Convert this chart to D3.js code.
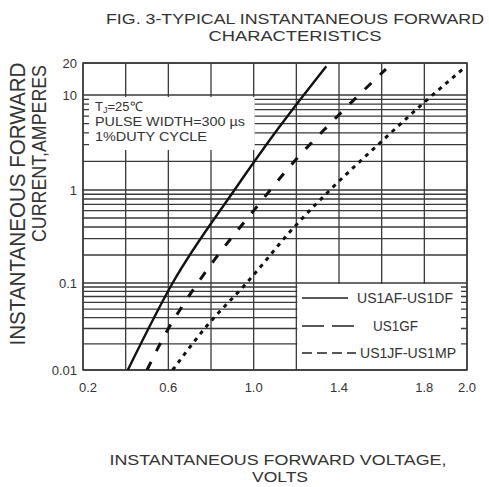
<!DOCTYPE html>
<html>
<head>
<meta charset="utf-8">
<script src="https://cdn.jsdelivr.net/npm/d3@7"></script>
<style>
  html, body { margin: 0; padding: 0; background: #fff; }
  svg { display: block; font-family: "Liberation Sans", Arial, sans-serif; }
</style>
</head>
<body>
<svg id="chart" width="489" height="487"></svg>
<script>
// ---------------- data ----------------
const voltTickLabels = [0.2, 0.6, 1.0, 1.4, 1.8, 2.0];
const voltGrid = [0.2, 0.4, 0.6, 0.8, 1.0, 1.2, 1.4, 1.6, 1.8, 2.0];
const currentTickLabels = [0.01, 0.1, 1, 10, 20];
const decades = [0.01, 0.1, 1, 10];
const decadeMultipliers = [1, 2, 3, 4, 5, 6, 7, 8, 9];

const seriesNames = ["US1AF-US1DF", "US1GF", "US1JF-US1MP"];

// US1AF-US1DF (solid)
const solidVolts = [0.41, 0.62, 0.91, 1.12, 1.34];
const solidAmps  = [0.01, 0.10, 1.0, 4.6, 18.6];

// US1GF (dashed)
const dashedVolts = [0.50, 0.59, 0.69, 0.81, 1.00, 1.19, 1.33, 1.47, 1.62];
const dashedAmps  = [0.01, 0.027, 0.067, 0.17, 0.6, 2.0, 4.3, 8.9, 17.5];

// US1JF-US1MP (dotted)
const dottedVolts = [0.62, 0.78, 0.967, 1.186, 1.358, 1.607, 1.803, 1.99];
const dottedAmps  = [0.01, 0.032, 0.10, 0.39, 1.0, 3.36, 8.5, 18.2];

const noteLines = ["PULSE WIDTH=300 µs", "1%DUTY CYCLE"];

// ---------------- layout ----------------
const svg = d3.select("#chart");
const L = 83, R = 467, T = 63, B = 370;
const gridColor = "#3a3a3a";
const textColor = "#333";

const x = d3.scaleLinear().domain([0.2, 2.0]).range([L, R]);
// log scale, piecewise per decade to follow the scanned grid
const y = d3.scaleLog().domain([0.01, 0.1, 1, 10, 20]).range([B, 283, 190, 95, T]);

const hGrid = [];
decades.forEach(d => decadeMultipliers.forEach(m => {
  const v = +(m * d).toPrecision(3);
  if (v <= 20) hGrid.push(v);
}));

const defs = svg.append("defs");
defs.append("clipPath").attr("id", "plotClip")
  .append("rect").attr("x", L).attr("y", T).attr("width", R - L).attr("height", B - T);

const grid = svg.append("g");
grid.selectAll("line.v").data(voltGrid).join("line")
  .attr("x1", d => x(d)).attr("x2", d => x(d))
  .attr("y1", T).attr("y2", B)
  .attr("stroke", gridColor).attr("stroke-width", 1.3);
grid.selectAll("line.h").data(hGrid).join("line")
  .attr("x1", L).attr("x2", R)
  .attr("y1", d => y(d)).attr("y2", d => y(d))
  .attr("stroke", gridColor).attr("stroke-width", 1.3);

// note box (covers grid)
svg.append("rect").attr("x", 89).attr("y", y(10) + 2)
  .attr("width", x(1.0) + 1 - 89).attr("height", 150 - (y(10) + 2))
  .attr("fill", "#fff");

// legend box (covers grid)
svg.append("rect").attr("x", x(1.2) + 1).attr("y", y(0.1) + 1)
  .attr("width", 461 - (x(1.2) + 1)).attr("height", B - 1 - (y(0.1) + 1))
  .attr("fill", "#fff");

// frame
svg.append("rect").attr("x", L).attr("y", T).attr("width", R - L).attr("height", B - T)
  .attr("fill", "none").attr("stroke", gridColor).attr("stroke-width", 1.5);

// curves
const line = d3.line().x(d => x(d[0])).y(d => y(d[1])).curve(d3.curveMonotoneX);
const curves = [
  { v: solidVolts, a: solidAmps, dash: null, w: 2.4 },
  { v: dashedVolts, a: dashedAmps, dash: "9,12", w: 3 },
  { v: dottedVolts, a: dottedAmps, dash: "4,5", w: 3 }
];
const cg = svg.append("g").attr("clip-path", "url(#plotClip)");
curves.forEach(c => {
  cg.append("path").datum(d3.zip(c.v, c.a))
    .attr("d", line).attr("fill", "none").attr("stroke", "#111")
    .attr("stroke-width", c.w).attr("stroke-dasharray", c.dash);
});

// axis tick labels
svg.append("g").selectAll("text").data(voltTickLabels).join("text")
  .attr("x", d => x(d) + (d === 0.2 ? 5 : 0)).attr("y", 392).attr("text-anchor", "middle")
  .attr("font-size", 13).attr("fill", textColor)
  .text(d => d.toFixed(1));
svg.append("g").selectAll("text").data(currentTickLabels).join("text")
  .attr("x", 77).attr("y", d => y(d) + 5).attr("text-anchor", "end")
  .attr("font-size", 13).attr("fill", textColor)
  .text(d => String(d));

// note text
const nt = svg.append("text").attr("x", 95).attr("y", 111).attr("font-size", 13).attr("fill", textColor);
nt.append("tspan").text("T");
nt.append("tspan").attr("font-size", 9).attr("dy", 2).text("J");
nt.append("tspan").attr("dy", -2).text("=25℃");
svg.append("text").attr("x", 95).attr("y", 126).attr("font-size", 13).attr("fill", textColor)
  .attr("textLength", 150).attr("lengthAdjust", "spacingAndGlyphs").text(noteLines[0]);
svg.append("text").attr("x", 95).attr("y", 141).attr("font-size", 13).attr("fill", textColor)
  .attr("textLength", 112).attr("lengthAdjust", "spacingAndGlyphs").text(noteLines[1]);

// legend
const legendRows = [
  { name: seriesNames[0], y: 298, dash: null, x2: 348, tx: 357, tl: 96 },
  { name: seriesNames[1], y: 326, dash: "22,8", x2: 357, tx: 373, tl: 45 },
  { name: seriesNames[2], y: 353, dash: "10,5", x2: 356, tx: 360, tl: 96 }
];
legendRows.forEach(r => {
  svg.append("line").attr("x1", 302).attr("x2", r.x2).attr("y1", r.y).attr("y2", r.y)
    .attr("stroke", "#222").attr("stroke-width", 1.6).attr("stroke-dasharray", r.dash);
  svg.append("text").attr("x", r.tx).attr("y", r.y + 5).attr("font-size", 14)
    .attr("fill", textColor).attr("textLength", r.tl).attr("lengthAdjust", "spacingAndGlyphs")
    .text(r.name);
});

// titles
svg.append("text").attr("x", 295).attr("y", 24).attr("text-anchor", "middle")
  .attr("font-size", 15).attr("fill", textColor)
  .attr("textLength", 378).attr("lengthAdjust", "spacingAndGlyphs")
  .text("FIG. 3-TYPICAL INSTANTANEOUS FORWARD");
svg.append("text").attr("x", 295).attr("y", 41).attr("text-anchor", "middle")
  .attr("font-size", 15).attr("fill", textColor)
  .attr("textLength", 173).attr("lengthAdjust", "spacingAndGlyphs")
  .text("CHARACTERISTICS");

svg.append("text").attr("transform", "translate(25,204) rotate(-90)")
  .attr("text-anchor", "middle").attr("font-size", 22).attr("fill", textColor)
  .attr("textLength", 283).attr("lengthAdjust", "spacingAndGlyphs")
  .text("INSTANTANEOUS FORWARD");
svg.append("text").attr("transform", "translate(46,242) rotate(-90)")
  .attr("text-anchor", "start").attr("font-size", 21).attr("fill", textColor)
  .attr("textLength", 177).attr("lengthAdjust", "spacingAndGlyphs")
  .text("CURRENT,AMPERES");

svg.append("text").attr("x", 278).attr("y", 465).attr("text-anchor", "middle")
  .attr("font-size", 15).attr("fill", textColor)
  .attr("textLength", 337).attr("lengthAdjust", "spacingAndGlyphs")
  .text("INSTANTANEOUS FORWARD VOLTAGE,");
svg.append("text").attr("x", 280).attr("y", 482).attr("text-anchor", "middle")
  .attr("font-size", 15).attr("fill", textColor)
  .attr("textLength", 56).attr("lengthAdjust", "spacingAndGlyphs")
  .text("VOLTS");
</script>
</body>
</html>
